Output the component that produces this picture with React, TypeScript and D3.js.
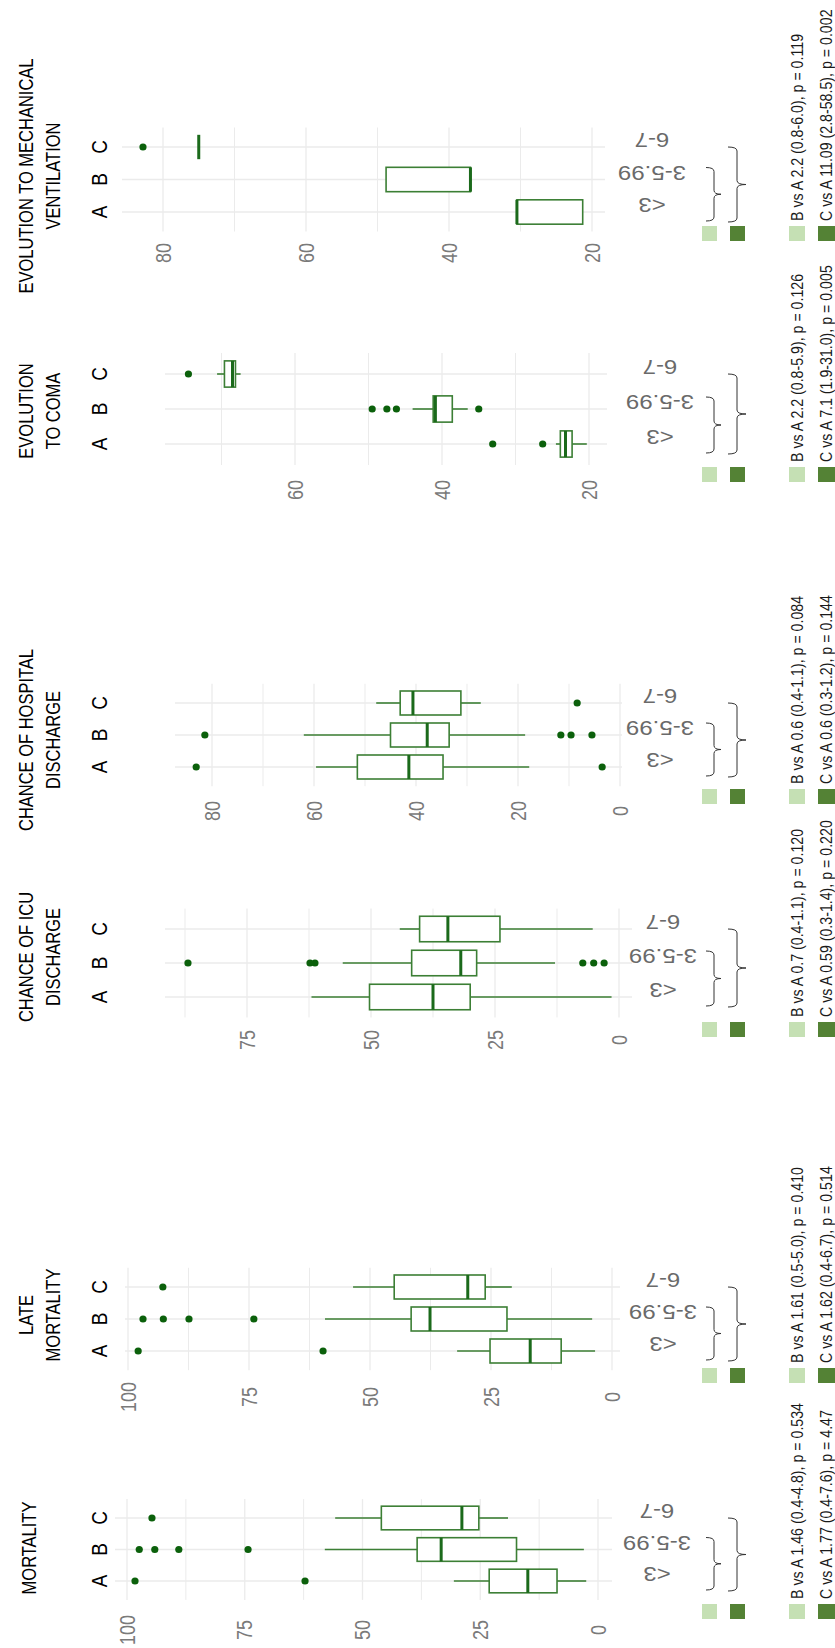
import React from "react";
import * as d3 from "d3";

// ---------------- data ----------------
const groupCodes = ["A", "B", "C"];
const categoryLabels = ["<3", "3-5.99", "6-7"];

// box statistics per category: [lower whisker, Q1, median, Q3, upper whisker]
const mortalityTitle = ["MORTALITY"];
const mortalityTicks = [0, 25, 50, 75, 100];
const mortalityStats = [
  [2.5, 8.7, 14.9, 23.1, 30.6],
  [3.0, 17.3, 33.3, 38.4, 58.0],
  [19.1, 25.3, 28.9, 46.0, 55.8],
];
const mortalityOutliers = [[62.2, 98.3], [74.3, 89.0, 94.1, 97.4], [94.7]];
const mortalityLegend = ["B vs A 1.46 (0.4-4.8), p = 0.534", "C vs A 1.77 (0.4-7.6), p = 4.47"];

const lateTitle = ["LATE", "MORTALITY"];
const lateTicks = [0, 25, 50, 75, 100];
const lateStats = [
  [3.5, 10.5, 16.9, 25.2, 32.0],
  [4.1, 21.7, 37.6, 41.5, 59.3],
  [20.7, 26.2, 29.8, 45.0, 53.5],
];
const lateOutliers = [[59.7, 97.9], [74.0, 87.4, 92.7, 96.9], [92.8]];
const lateLegend = ["B vs A 1.61 (0.5-5.0), p = 0.410", "C vs A 1.62 (0.4-6.7), p = 0.514"];

const icuTitle = ["CHANCE OF ICU", "DISCHARGE"];
const icuTicks = [0, 25, 50, 75];
const icuStats = [
  [1.5, 30.0, 37.5, 50.3, 62.0],
  [12.9, 28.7, 31.9, 41.8, 55.7],
  [5.3, 24.0, 34.5, 40.2, 44.2],
];
const icuOutliers = [[], [3.0, 5.1, 7.3, 61.3, 62.3, 86.9], []];
const icuLegend = ["B vs A 0.7 (0.4-1.1), p = 0.120", "C vs A 0.59 (0.3-1.4), p = 0.220"];

const hospTitle = ["CHANCE OF HOSPITAL", "DISCHARGE"];
const hospTicks = [0, 20, 40, 60, 80];
const hospStats = [
  [17.8, 34.7, 41.4, 51.5, 59.6],
  [18.6, 33.5, 37.8, 45.0, 62.0],
  [27.3, 31.2, 40.6, 43.1, 47.8],
];
const hospOutliers = [[3.5, 83.1], [5.5, 9.6, 11.6, 81.4], [8.4]];
const hospLegend = ["B vs A 0.6 (0.4-1.1), p = 0.084", "C vs A 0.6 (0.3-1.2), p = 0.144"];

const comaTitle = ["EVOLUTION", "TO COMA"];
const comaTicks = [20, 40, 60];
const comaStats = [
  [20.3, 22.3, 23.2, 23.9, 24.5],
  [36.5, 38.6, 40.9, 41.2, 44.0],
  [67.4, 68.1, 68.5, 69.6, 70.6],
];
const comaOutliers = [[26.3, 33.1], [35.0, 46.2, 47.5, 49.5], [74.5]];
const comaLegend = ["B vs A 2.2 (0.8-5.9), p = 0.126", "C vs A 7.1 (1.9-31.0), p = 0.005"];

const ventTitle = ["EVOLUTION TO MECHANICAL", "VENTILATION"];
const ventTicks = [20, 40, 60, 80];
const ventStats = [
  [21.3, 21.3, 30.5, 30.5, 30.5],
  [37.0, 37.0, 37.0, 48.8, 48.8],
  [75.0, 75.0, 75.0, 75.0, 75.0],
];
const ventOutliers = [[], [], [82.8]];
const ventLegend = ["B vs A 2.2 (0.8-6.0), p = 0.119", "C vs A 11.09 (2.8-58.5), p = 0.002"];

// ---------------- layout (screen space) ----------------
type Layout = {
  rowA: number; step: number;
  v0: number; x0: number; v1: number; x1: number;
  plotL: number; plotR: number;
  titleY: number; labelY: number; catX: number; legendY: number;
};

const panels = [
  { title: ventTitle, ticks: ventTicks, stats: ventStats, outliers: ventOutliers, legend: ventLegend,
    layout: { rowA: 212, step: 32.5, v0: 80, x0: 163, v1: 20, x1: 592, plotL: 122, plotR: 605, titleY: 176, labelY: 253, catX: 652, legendY: 226 } },
  { title: comaTitle, ticks: comaTicks, stats: comaStats, outliers: comaOutliers, legend: comaLegend,
    layout: { rowA: 444, step: 35, v0: 60, x0: 295, v1: 20, x1: 589, plotL: 165, plotR: 607, titleY: 411, labelY: 490, catX: 660, legendY: 467 } },
  { title: hospTitle, ticks: hospTicks, stats: hospStats, outliers: hospOutliers, legend: hospLegend,
    layout: { rowA: 767, step: 32, v0: 80, x0: 212, v1: 0, x1: 620, plotL: 175, plotR: 622, titleY: 740, labelY: 811, catX: 660, legendY: 789 } },
  { title: icuTitle, ticks: icuTicks, stats: icuStats, outliers: icuOutliers, legend: icuLegend,
    layout: { rowA: 997, step: 34, v0: 75, x0: 247, v1: 0, x1: 619, plotL: 165, plotR: 632, titleY: 957, labelY: 1040, catX: 663, legendY: 1022 } },
  { title: lateTitle, ticks: lateTicks, stats: lateStats, outliers: lateOutliers, legend: lateLegend,
    layout: { rowA: 1351, step: 32, v0: 100, x0: 128, v1: 0, x1: 612, plotL: 125, plotR: 620, titleY: 1315, labelY: 1397, catX: 663, legendY: 1368 } },
  { title: mortalityTitle, ticks: mortalityTicks, stats: mortalityStats, outliers: mortalityOutliers, legend: mortalityLegend,
    layout: { rowA: 1581, step: 31.5, v0: 100, x0: 127, v1: 0, x1: 598, plotL: 115, plotR: 612, titleY: 1548, labelY: 1630, catX: 657, legendY: 1604 } },
];

const K = 1.2; // horizontal stretch of the scanned figure
const FONT = "'Liberation Sans', Arial, sans-serif";
const BOX = "#3c7f35";
const MEDIAN = "#1b6a1b";
const DOT = "#0b600b";
const GRID = "#ebebeb";
const LIGHT = "#c5e0b4";
const DARK = "#548235";

function SText(props: { x: number; y: number; angle: number; size: number; fill?: string; anchor?: string; weight?: string; family?: string; children: React.ReactNode }) {
  const { x, y, angle, size, fill = "#000", anchor = "middle", weight = "normal", family = FONT, children } = props;
  return (
    <text transform={`translate(${x},${y}) scale(${K},1) rotate(${angle})`} textAnchor={anchor}
      dominantBaseline="central" fontSize={size} fill={fill} fontFamily={family} fontWeight={weight}>
      {children}
    </text>
  );
}

function bracePath(xl: number, xm: number, xt: number, y0: number, y1: number) {
  const ym = (y0 + y1) / 2;
  const r = 4;
  return `M${xl},${y0} Q${xm},${y0} ${xm},${y0 + r} L${xm},${ym - r} Q${xm},${ym} ${xt},${ym} Q${xm},${ym} ${xm},${ym + r} L${xm},${y1 - r} Q${xm},${y1} ${xl},${y1}`;
}

function Panel({ p }: { p: typeof panels[number] }) {
  const L: Layout = p.layout;
  const x = d3.scaleLinear().domain([L.v0, L.v1]).range([L.x0, L.x1]);
  const y = d3.scalePoint<string>().domain(categoryLabels).range([L.rowA, L.rowA - 2 * L.step]);
  const top = L.rowA - 2.6 * L.step;
  const bottom = L.rowA + 0.6 * L.step;
  const vHi = x.invert(L.plotL);
  const vLo = x.invert(L.plotR);
  const tStep = p.ticks[1] - p.ticks[0];
  const within = (v: number) => v >= Math.min(vLo, vHi) && v <= Math.max(vLo, vHi);
  const major = p.ticks.filter(within);
  const minor = d3.range(p.ticks[0] - tStep / 2, p.ticks[p.ticks.length - 1] + tStep, tStep).filter(within);
  const bw = 0.75 * L.step;
  const yA = y(categoryLabels[0])!;
  const yB = y(categoryLabels[1])!;
  const yC = y(categoryLabels[2])!;
  const titleXs = p.title.length === 1 ? [29] : [26, 53];

  return (
    <g>
      {/* title */}
      {p.title.map((t, i) => (
        <SText key={t} x={titleXs[i]} y={L.titleY} angle={-90} size={16.5}>{t}</SText>
      ))}
      {/* group letters */}
      {groupCodes.map((g, i) => (
        <SText key={g} x={99} y={y(categoryLabels[i])!} angle={-90} size={19}>{g}</SText>
      ))}
      {/* grid */}
      {minor.map((v) => (
        <line key={"m" + v} x1={x(v)} x2={x(v)} y1={top} y2={bottom} stroke={GRID} strokeWidth={1} />
      ))}
      {major.map((v) => (
        <line key={"M" + v} x1={x(v)} x2={x(v)} y1={top} y2={bottom} stroke={GRID} strokeWidth={1.3} />
      ))}
      {categoryLabels.map((c) => (
        <line key={"h" + c} x1={L.plotL} x2={L.plotR} y1={y(c)!} y2={y(c)!} stroke={GRID} strokeWidth={1.3} />
      ))}
      {/* boxes */}
      {categoryLabels.map((c, i) => {
        const [lo, q1, med, q3, hi] = p.stats[i];
        const yc = y(c)!;
        return (
          <g key={"b" + c}>
            <line x1={x(hi)} x2={x(q3)} y1={yc} y2={yc} stroke={BOX} strokeWidth={1.6} />
            <line x1={x(q1)} x2={x(lo)} y1={yc} y2={yc} stroke={BOX} strokeWidth={1.6} />
            <rect x={x(q3)} y={yc - bw / 2} width={Math.max(0, x(q1) - x(q3))} height={bw} fill="#fff" stroke={BOX} strokeWidth={1.6} />
            <line x1={x(med)} x2={x(med)} y1={yc - bw / 2} y2={yc + bw / 2} stroke={MEDIAN} strokeWidth={3} />
            {p.outliers[i].map((v, j) => (
              <circle key={j} cx={x(v)} cy={yc} r={3.6} fill={DOT} />
            ))}
          </g>
        );
      })}
      {/* value tick labels */}
      {major.map((v) => (
        <SText key={"t" + v} x={x(v)} y={L.labelY} angle={-90} size={18} fill="#7a7a7a">{String(v)}</SText>
      ))}
      {/* category tick labels */}
      {categoryLabels.map((c) => (
        <SText key={"c" + c} x={L.catX} y={y(c)! - 7} angle={180} size={20} fill="#6a6a6a">{c}</SText>
      ))}
      {/* brackets */}
      <path d={bracePath(706, 714, 721, yB - 12, yA + 9)} fill="none" stroke="#333" strokeWidth={1} />
      <path d={bracePath(728, 737, 746, yC, yA + 10)} fill="none" stroke="#333" strokeWidth={1} />
      {/* small legend squares */}
      <rect x={702} y={L.legendY} width={15} height={15} fill={LIGHT} />
      <rect x={730} y={L.legendY} width={15} height={15} fill={DARK} />
      {/* legend text */}
      <rect x={789} y={L.legendY} width={16} height={15} fill={LIGHT} />
      <rect x={818} y={L.legendY} width={17} height={15} fill={DARK} />
      {p.legend.map((t, i) => (
        <SText key={t} x={i === 0 ? 797 : 826} y={L.legendY - 5} angle={-90} size={14.2} anchor="start" fill="#1a1a1a">{t}</SText>
      ))}
    </g>
  );
}

export default function App() {
  return (
    <svg width={835} height={1648} style={{ position: "absolute", left: 0, top: 0, background: "#fff" }}>
      <rect x={0} y={0} width={835} height={1648} fill="#fff" />
      {panels.map((p, i) => (
        <Panel key={i} p={p} />
      ))}
    </svg>
  );
}
